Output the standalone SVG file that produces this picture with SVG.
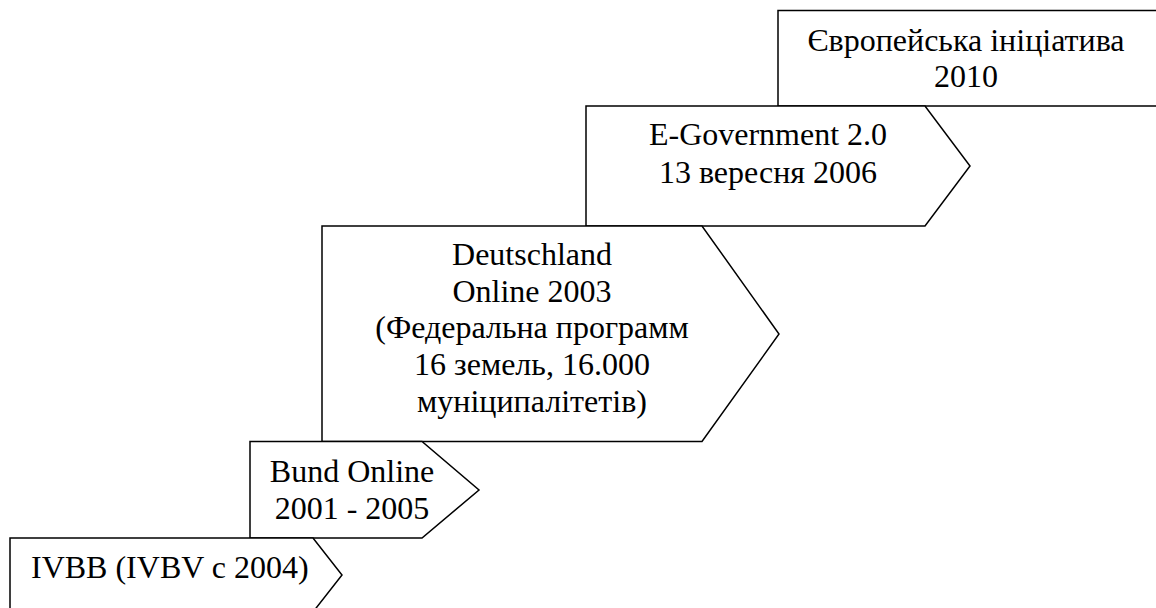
<svg xmlns="http://www.w3.org/2000/svg" width="1156" height="608" viewBox="0 0 1156 608">
<style>
.s{fill:#fff;stroke:#000;stroke-width:1.5;stroke-linejoin:miter}
text{font-family:"Liberation Serif","Times New Roman",serif;font-size:32px;fill:#000}
.c{text-anchor:middle}
</style>
<rect width="1156" height="608" fill="#fff"/>
<g id="n-europe"><polygon class="s" points="778,10.5 1170,10.5 1170,106 778,106"/><text class="c" x="966" y="51">Європейська ініціатива</text><text class="c" x="966" y="87">2010</text></g>
<g id="n-egov"><polygon class="s" points="586,106 925,106 970,166 925,226 586,226"/><text class="c" x="768" y="145">E-Government 2.0</text><text class="c" x="768" y="183">13 вересня 2006</text></g>
<g id="n-deutschland"><polygon class="s" points="322,226 702,226 779,334 702,441.5 322,441.5"/><text class="c" x="532" y="265">Deutschland</text><text class="c" x="532" y="302">Online 2003</text><text class="c" x="532" y="338">(Федеральна программ</text><text class="c" x="532" y="375">16 земель, 16.000</text><text class="c" x="532" y="412">муніципалітетів)</text></g>
<g id="n-bund"><polygon class="s" points="250,441.5 422,441.5 479,490 422,538 250,538"/><text class="c" x="352" y="482">Bund Online</text><text class="c" x="352" y="519">2001 - 2005</text></g>
<g id="n-ivbb"><polygon class="s" points="10,538 313,538 342,575 313,612 10,612"/><text x="31" y="578">IVBB (IVBV с 2004)</text></g>
<g id="connectors"></g>
</svg>
